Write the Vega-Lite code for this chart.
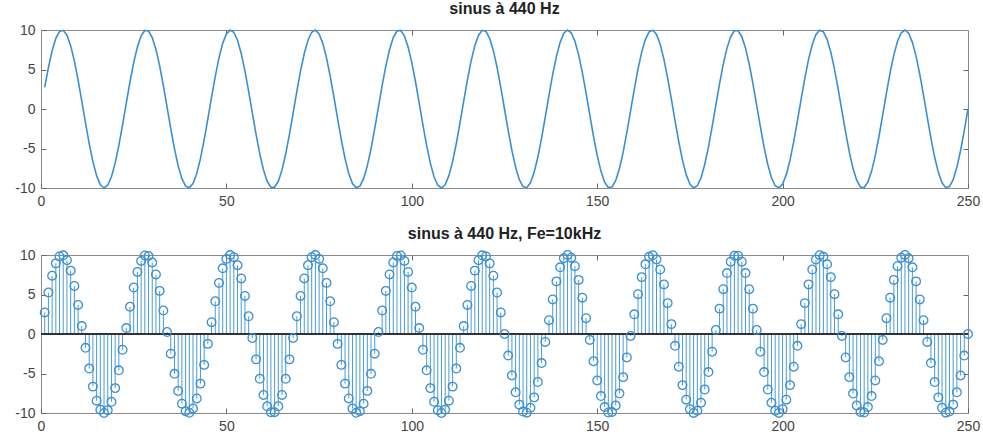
{
  "$schema": "https://vega.github.io/schema/vega-lite/v6.json",
  "background": "white",
  "padding": {"left": 14, "top": 0, "right": 10, "bottom": 2},
  "spacing": 16,
  "datasets": {
    "sig": [
      {"n":1,"v":2.73},{"n":2,"v":5.25},{"n":3,"v":7.38},{"n":4,"v":8.94},{"n":5,"v":9.82},{"n":6,"v":9.96},{"n":7,"v":9.34},{"n":8,"v":8.02},{"n":9,"v":6.08},{"n":10,"v":3.68},
      {"n":11,"v":1.00},{"n":12,"v":-1.75},{"n":13,"v":-4.37},{"n":14,"v":-6.66},{"n":15,"v":-8.44},{"n":16,"v":-9.59},{"n":17,"v":-10.00},{"n":18,"v":-9.65},{"n":19,"v":-8.58},{"n":20,"v":-6.85},
      {"n":21,"v":-4.60},{"n":22,"v":-2.00},{"n":23,"v":0.75},{"n":24,"v":3.45},{"n":25,"v":5.88},{"n":26,"v":7.86},{"n":27,"v":9.25},{"n":28,"v":9.94},{"n":29,"v":9.87},{"n":30,"v":9.05},
      {"n":31,"v":7.54},{"n":32,"v":5.46},{"n":33,"v":2.97},{"n":34,"v":0.25},{"n":35,"v":-2.49},{"n":36,"v":-5.04},{"n":37,"v":-7.20},{"n":38,"v":-8.82},{"n":39,"v":-9.77},{"n":40,"v":-9.98},
      {"n":41,"v":-9.43},{"n":42,"v":-8.16},{"n":43,"v":-6.28},{"n":44,"v":-3.91},{"n":45,"v":-1.25},{"n":46,"v":1.50},{"n":47,"v":4.14},{"n":48,"v":6.47},{"n":49,"v":8.31},{"n":50,"v":9.51},
      {"n":51,"v":9.99},{"n":52,"v":9.72},{"n":53,"v":8.70},{"n":54,"v":7.03},{"n":55,"v":4.82},{"n":56,"v":2.24},{"n":57,"v":-0.50},{"n":58,"v":-3.21},{"n":59,"v":-5.67},{"n":60,"v":-7.71},
      {"n":61,"v":-9.15},{"n":62,"v":-9.90},{"n":63,"v":-9.90},{"n":64,"v":-9.15},{"n":65,"v":-7.71},{"n":66,"v":-5.67},{"n":67,"v":-3.21},{"n":68,"v":-0.50},{"n":69,"v":2.24},{"n":70,"v":4.82},
      {"n":71,"v":7.03},{"n":72,"v":8.70},{"n":73,"v":9.72},{"n":74,"v":9.99},{"n":75,"v":9.51},{"n":76,"v":8.31},{"n":77,"v":6.47},{"n":78,"v":4.14},{"n":79,"v":1.50},{"n":80,"v":-1.25},
      {"n":81,"v":-3.91},{"n":82,"v":-6.28},{"n":83,"v":-8.16},{"n":84,"v":-9.43},{"n":85,"v":-9.98},{"n":86,"v":-9.77},{"n":87,"v":-8.82},{"n":88,"v":-7.20},{"n":89,"v":-5.04},{"n":90,"v":-2.49},
      {"n":91,"v":0.25},{"n":92,"v":2.97},{"n":93,"v":5.46},{"n":94,"v":7.54},{"n":95,"v":9.05},{"n":96,"v":9.87},{"n":97,"v":9.94},{"n":98,"v":9.25},{"n":99,"v":7.86},{"n":100,"v":5.88},
      {"n":101,"v":3.45},{"n":102,"v":0.75},{"n":103,"v":-2.00},{"n":104,"v":-4.60},{"n":105,"v":-6.85},{"n":106,"v":-8.58},{"n":107,"v":-9.65},{"n":108,"v":-10.00},{"n":109,"v":-9.59},{"n":110,"v":-8.44},
      {"n":111,"v":-6.66},{"n":112,"v":-4.37},{"n":113,"v":-1.75},{"n":114,"v":1.00},{"n":115,"v":3.68},{"n":116,"v":6.08},{"n":117,"v":8.02},{"n":118,"v":9.34},{"n":119,"v":9.96},{"n":120,"v":9.82},
      {"n":121,"v":8.94},{"n":122,"v":7.38},{"n":123,"v":5.25},{"n":124,"v":2.73},{"n":125,"v":0.00},{"n":126,"v":-2.73},{"n":127,"v":-5.25},{"n":128,"v":-7.38},{"n":129,"v":-8.94},{"n":130,"v":-9.82},
      {"n":131,"v":-9.96},{"n":132,"v":-9.34},{"n":133,"v":-8.02},{"n":134,"v":-6.08},{"n":135,"v":-3.68},{"n":136,"v":-1.00},{"n":137,"v":1.75},{"n":138,"v":4.37},{"n":139,"v":6.66},{"n":140,"v":8.44},
      {"n":141,"v":9.59},{"n":142,"v":10.00},{"n":143,"v":9.65},{"n":144,"v":8.58},{"n":145,"v":6.85},{"n":146,"v":4.60},{"n":147,"v":2.00},{"n":148,"v":-0.75},{"n":149,"v":-3.45},{"n":150,"v":-5.88},
      {"n":151,"v":-7.86},{"n":152,"v":-9.25},{"n":153,"v":-9.94},{"n":154,"v":-9.87},{"n":155,"v":-9.05},{"n":156,"v":-7.54},{"n":157,"v":-5.46},{"n":158,"v":-2.97},{"n":159,"v":-0.25},{"n":160,"v":2.49},
      {"n":161,"v":5.04},{"n":162,"v":7.20},{"n":163,"v":8.82},{"n":164,"v":9.77},{"n":165,"v":9.98},{"n":166,"v":9.43},{"n":167,"v":8.16},{"n":168,"v":6.28},{"n":169,"v":3.91},{"n":170,"v":1.25},
      {"n":171,"v":-1.50},{"n":172,"v":-4.14},{"n":173,"v":-6.47},{"n":174,"v":-8.31},{"n":175,"v":-9.51},{"n":176,"v":-9.99},{"n":177,"v":-9.72},{"n":178,"v":-8.70},{"n":179,"v":-7.03},{"n":180,"v":-4.82},
      {"n":181,"v":-2.24},{"n":182,"v":0.50},{"n":183,"v":3.21},{"n":184,"v":5.67},{"n":185,"v":7.71},{"n":186,"v":9.15},{"n":187,"v":9.90},{"n":188,"v":9.90},{"n":189,"v":9.15},{"n":190,"v":7.71},
      {"n":191,"v":5.67},{"n":192,"v":3.21},{"n":193,"v":0.50},{"n":194,"v":-2.24},{"n":195,"v":-4.82},{"n":196,"v":-7.03},{"n":197,"v":-8.70},{"n":198,"v":-9.72},{"n":199,"v":-9.99},{"n":200,"v":-9.51},
      {"n":201,"v":-8.31},{"n":202,"v":-6.47},{"n":203,"v":-4.14},{"n":204,"v":-1.50},{"n":205,"v":1.25},{"n":206,"v":3.91},{"n":207,"v":6.28},{"n":208,"v":8.16},{"n":209,"v":9.43},{"n":210,"v":9.98},
      {"n":211,"v":9.77},{"n":212,"v":8.82},{"n":213,"v":7.20},{"n":214,"v":5.04},{"n":215,"v":2.49},{"n":216,"v":-0.25},{"n":217,"v":-2.97},{"n":218,"v":-5.46},{"n":219,"v":-7.54},{"n":220,"v":-9.05},
      {"n":221,"v":-9.87},{"n":222,"v":-9.94},{"n":223,"v":-9.25},{"n":224,"v":-7.86},{"n":225,"v":-5.88},{"n":226,"v":-3.45},{"n":227,"v":-0.75},{"n":228,"v":2.00},{"n":229,"v":4.60},{"n":230,"v":6.85},
      {"n":231,"v":8.58},{"n":232,"v":9.65},{"n":233,"v":10.00},{"n":234,"v":9.59},{"n":235,"v":8.44},{"n":236,"v":6.66},{"n":237,"v":4.37},{"n":238,"v":1.75},{"n":239,"v":-1.00},{"n":240,"v":-3.68},
      {"n":241,"v":-6.08},{"n":242,"v":-8.02},{"n":243,"v":-9.34},{"n":244,"v":-9.96},{"n":245,"v":-9.82},{"n":246,"v":-8.94},{"n":247,"v":-7.38},{"n":248,"v":-5.25},{"n":249,"v":-2.73},{"n":250,"v":0.00}
    ]
  },
  "vconcat": [
    {
      "width": 927,
      "height": 158,
      "title": {"text": "sinus à 440 Hz"},
      "data": {"name": "sig"},
      "layer": [
        {
          "mark": {"type": "line", "color": "#3a8fd3", "strokeWidth": 1.6},
          "encoding": {
            "x": {"field": "n", "type": "quantitative", "title": null, "scale": {"domain": [0, 250], "nice": false, "zero": false},
                  "axis": {"orient": "bottom", "values": [0, 50, 100, 150, 200, 250]}},
            "y": {"field": "v", "type": "quantitative", "title": null, "scale": {"domain": [-10, 10], "nice": false},
                  "axis": {"orient": "left", "values": [-10, -5, 0, 5, 10], "labelExpr": "datum.value < 0 ? '-' + abs(datum.value) : '' + datum.value"}}
          }
        },
        {
          "mark": {"type": "point", "opacity": 0},
          "encoding": {
            "x": {"field": "n", "type": "quantitative", "title": null,
                  "axis": {"orient": "top", "labels": false, "values": [50, 100, 150, 200]}},
            "y": {"field": "v", "type": "quantitative", "title": null,
                  "axis": {"orient": "right", "labels": false, "values": [-5, 0, 5]}}
          }
        }
      ],
      "resolve": {"axis": {"x": "independent", "y": "independent"}}
    },
    {
      "width": 927,
      "height": 158,
      "title": {"text": "sinus à 440 Hz, Fe=10kHz"},
      "data": {"name": "sig"},
      "layer": [
        {
          "mark": {"type": "rule", "color": "#4a9ad8", "strokeWidth": 1},
          "encoding": {
            "x": {"field": "n", "type": "quantitative", "title": null, "scale": {"domain": [0, 250], "nice": false, "zero": false},
                  "axis": {"orient": "bottom", "values": [0, 50, 100, 150, 200, 250]}},
            "y": {"field": "v", "type": "quantitative", "title": null, "scale": {"domain": [-10, 10], "nice": false},
                  "axis": {"orient": "left", "values": [-10, -5, 0, 5, 10], "labelExpr": "datum.value < 0 ? '-' + abs(datum.value) : '' + datum.value"}},
            "y2": {"datum": 0}
          }
        },
        {
          "mark": {"type": "rule", "color": "#333333", "strokeWidth": 1.2},
          "encoding": {
            "y": {"datum": 0, "type": "quantitative", "axis": null}
          }
        },
        {
          "mark": {"type": "point", "shape": "circle", "filled": false, "color": "#3a8fd3", "size": 75, "strokeWidth": 1.3, "opacity": 1},
          "encoding": {
            "x": {"field": "n", "type": "quantitative", "axis": null},
            "y": {"field": "v", "type": "quantitative", "axis": null}
          }
        },
        {
          "mark": {"type": "point", "opacity": 0},
          "encoding": {
            "x": {"field": "n", "type": "quantitative", "title": null,
                  "axis": {"orient": "top", "labels": false, "values": [50, 100, 150, 200]}},
            "y": {"field": "v", "type": "quantitative", "title": null,
                  "axis": {"orient": "right", "labels": false, "values": [-5, 0, 5]}}
          }
        }
      ],
      "resolve": {"axis": {"x": "independent", "y": "independent"}}
    }
  ],
  "config": {
    "view": {"stroke": "#8a8a8a", "strokeWidth": 1},
    "title": {"font": "Liberation Sans", "fontSize": 16, "fontWeight": "bold", "color": "#222222", "offset": 6, "anchor": "middle"},
    "axis": {
      "domain": false,
      "grid": false,
      "tickSize": -5,
      "tickColor": "#666666",
      "tickWidth": 1,
      "labelPadding": 11,
      "labelFont": "Liberation Sans",
      "labelFontSize": 14,
      "labelColor": "#444444",
      "labelFlush": false,
      "labelOverlap": false
    }
  }
}
